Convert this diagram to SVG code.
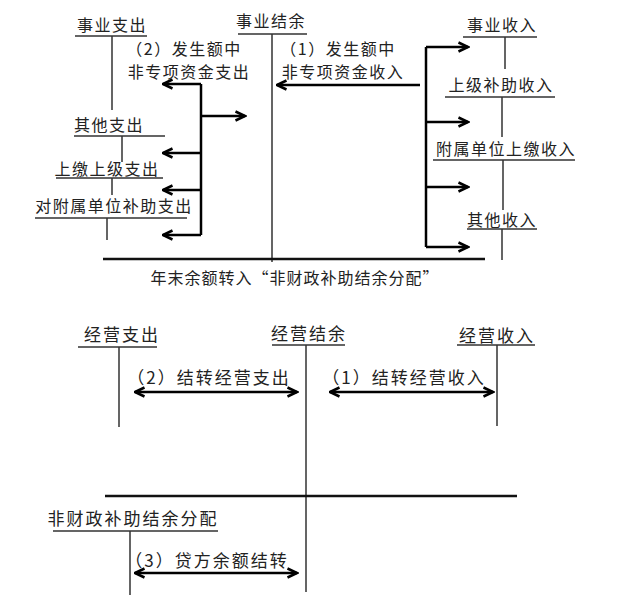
<svg xmlns="http://www.w3.org/2000/svg" width="640" height="605" viewBox="0 0 640 605">
<style>
text{font-family:"Noto Sans CJK SC","Noto Sans CJK TC",sans-serif;fill:#222;text-anchor:middle}
.t{font-size:16px;letter-spacing:1.5px}
.b{font-size:17px;letter-spacing:2px}
.acc{stroke:#333;stroke-width:1.5;fill:none}
.base{stroke:#111;stroke-width:2.5;fill:none}
.arr{stroke:#000;stroke-width:2.5;fill:none;marker-end:url(#ah)}
.dbl{stroke:#000;stroke-width:2.5;fill:none;marker-end:url(#ah);marker-start:url(#ah)}
.br{stroke:#000;stroke-width:2.5;fill:none}
</style>
<defs>
<marker id="ah" viewBox="0 0 12 12" refX="10.5" refY="6" markerWidth="12" markerHeight="12" markerUnits="userSpaceOnUse" orient="auto-start-reverse">
<path d="M1,1.5 L10.5,6 L1,10.5" fill="none" stroke="#000" stroke-width="2.5"/>
</marker>
</defs>
<rect width="640" height="605" fill="#fff"/>

<g id="shiye-zhichu"><text class="t" x="112" y="31">事业支出</text><path class="acc" d="M75,36H147M112,36V110"/></g>
<g id="qita-zhichu"><text class="t" x="109" y="131">其他支出</text><path class="acc" d="M74,136H165M122,136V162"/></g>
<g id="shangjiao-shangji-zhichu"><text class="t" x="107" y="175">上缴上级支出</text><path class="acc" d="M56,178H163M112,178V195"/></g>
<g id="dui-fushu-danwei-buzhu-zhichu"><text class="t" x="114" y="212">对附属单位补助支出</text><path class="acc" d="M35,218H187M107,218V240"/></g>
<g id="shiye-jieyu"><text class="t" x="271" y="27">事业结余</text><path class="acc" d="M238,34H307M272,34V262"/></g>
<g id="shiye-shouru"><text class="t" x="502" y="31">事业收入</text><path class="acc" d="M463,37H537M505,37V69"/></g>
<g id="shangji-buzhu-shouru"><text class="t" x="501" y="91">上级补助收入</text><path class="acc" d="M445,97H555M502,97V137"/></g>
<g id="fushu-danwei-shangjiao-shouru"><text class="t" x="506" y="155">附属单位上缴收入</text><path class="acc" d="M433,160H575M503,160V210"/></g>
<g id="qita-shouru"><text class="t" x="502" y="226">其他收入</text><path class="acc" d="M467,229H537M502,229V260"/></g>
<g id="nianmo-zhuanru"><path class="base" d="M103,259H485"/><text class="t" x="295" y="284" style="letter-spacing:1px">年末余额转入“非财政补助结余分配”</text></g>

<g id="jingying-zhichu"><text class="b" x="122" y="341">经营支出</text><path class="acc" d="M78,347H157M119,347V427"/></g>
<g id="jingying-jieyu"><text class="b" x="309" y="340">经营结余</text><path class="acc" d="M272,345H345M306,345V592"/></g>
<g id="jingying-shouru"><text class="b" x="497" y="342">经营收入</text><path class="acc" d="M457,345H535M497,345V426"/></g>
<g id="feicaizheng-fenpei"><path class="base" d="M105,496H517"/><text class="b" x="133" y="525">非财政补助结余分配</text><path class="acc" d="M53,531H218M130,531V595"/></g>

<g id="connectors">
<path class="br" d="M201,84V235"/>
<path class="arr" d="M201,84H163"/>
<path class="arr" d="M201,153H163"/>
<path class="arr" d="M201,190H163"/>
<path class="arr" d="M201,235H163"/>
<path class="arr" d="M201,116H245"/>
<text class="t" x="184" y="55">（2）发生额中</text>
<text class="t" x="189" y="78">非专项资金支出</text>

<path class="br" d="M426,47V247"/>
<path class="arr" d="M426,47H468"/>
<path class="arr" d="M426,122H468"/>
<path class="arr" d="M426,187H468"/>
<path class="arr" d="M426,247H468"/>
<path class="arr" d="M420,85H277"/>
<text class="t" x="338" y="55">（1）发生额中</text>
<text class="t" x="343" y="78">非专项资金收入</text>

<path class="dbl" d="M135,392H297"/>
<text class="b" x="209" y="384">（2）结转经营支出</text>
<path class="dbl" d="M330,392H493"/>
<text class="b" x="404" y="384">（1）结转经营收入</text>
<path class="dbl" d="M135,573H297"/>
<text class="b" x="207" y="567">（3）贷方余额结转</text>
</g>
</svg>
